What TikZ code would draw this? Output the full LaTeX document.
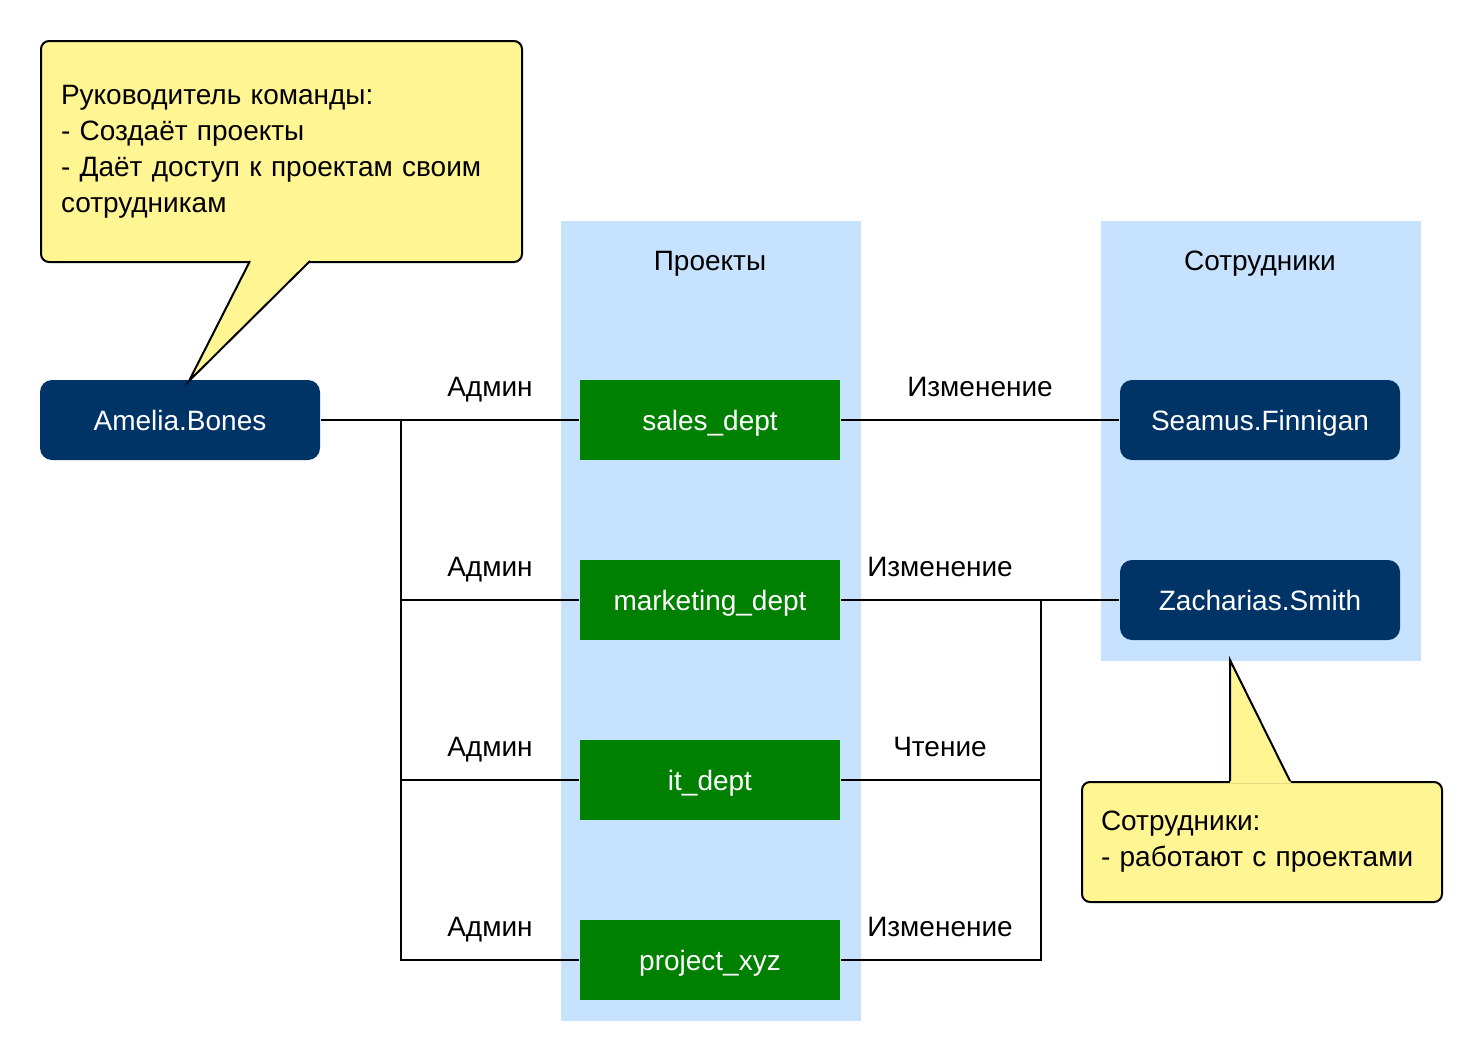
\documentclass[tikz,border=0pt]{standalone}
\usepackage{fontspec}
\setmainfont{Liberation Sans}
\usetikzlibrary{positioning, calc}

\definecolor{notefill}{HTML}{FFF593}
\definecolor{colfill}{HTML}{C7E2FF}
\definecolor{userfill}{HTML}{003366}
\definecolor{projfill}{HTML}{008000}

\begin{document}
\begin{tikzpicture}[
    x=1pt, y=-1pt,
    line width=2pt,
    font=\fontsize{28}{36}\selectfont,
    capline/.style={text height=20pt, text depth=0pt},
    user/.style={rectangle, capline, rounded corners=12pt, fill=userfill, text=white,
        minimum width=280pt, minimum height=80pt},
    proj/.style={rectangle, capline, fill=projfill, text=white,
        minimum width=260pt, minimum height=80pt},
    column/.style={rectangle, fill=colfill, inner sep=0pt, anchor=north west},
    note/.style={rectangle, draw, fill=notefill, rounded corners=8pt,
        align=left, anchor=north west},
    rolelabel/.style={capline, inner sep=0pt}
]

    % Canvas
    \fill[white] (0,0) rectangle (1480,1060);
    \useasboundingbox (0,0) rectangle (1480,1060);

    % Columns
    \node[column, minimum width=300pt, minimum height=800pt] (projcol) at (560,220) {};
    \node[column, minimum width=320pt, minimum height=440pt] (staffcol) at (1100,220) {};
    \node[rolelabel] (projtitle) at (710,260.5) {Проекты};
    \node[rolelabel] (stafftitle) at (1260,260.5) {Сотрудники};

    % Team lead and staff
    \node[user] (amelia) at (180,420) {Amelia.Bones};
    \node[user] (seamus) at (1260,420) {Seamus.Finnigan};
    \node[user] (zacharias) at (1260,600) {Zacharias.Smith};

    % Projects with admin rights
    \foreach \name/\label/\y in {sales/sales\_dept/420, marketing/marketing\_dept/600,
                                 it/it\_dept/780, xyz/project\_xyz/960} {
        \node[proj] (\name) at (710,\y) {\label};
        \node[rolelabel] (admin\name) at (490,\y-33.5) {Админ};
    }

    % Left side: lead -> projects
    \coordinate (lsplit) at (401,420);
    \draw (amelia) -- (sales);
    \foreach \name in {marketing, it, xyz}
        \draw (\name.west) -| (lsplit);

    % Right side: projects -> staff
    \coordinate (rsplit) at (1041,600);
    \draw (sales) -- (seamus);
    \draw (marketing) -- (zacharias);
    \foreach \name in {it, xyz}
        \draw (\name.east) -| (rsplit);

    \node[rolelabel] (rolesales) at (980,386.5) {Изменение};
    \node[rolelabel] (rolemarketing) at (940,566.5) {Изменение};
    \node[rolelabel] (roleit) at (940,746.5) {Чтение};
    \node[rolelabel] (rolexyz) at (940,926.5) {Изменение};

    % Callout for the team lead
    \node[note, minimum width=481pt, minimum height=221pt, text width=441pt,
          inner xsep=20pt] (leadnote) at (40,40)
        {Руководитель команды:\\- Создаёт проекты\\- Даёт доступ к проектам своим\\сотрудникам};
    \fill[notefill] (251,259) -- (189,381) -- (312,259) -- cycle;
    \draw (250,261) -- (189,381) -- (310,261);

    % Callout for the staff
    \node[note, minimum width=360pt, minimum height=120pt, text width=322pt,
          inner xsep=19pt] (staffnote) at (1081,781)
        {Сотрудники:\\- работают с проектами};
    \fill[notefill] (1230,783) -- (1230,660) -- (1291,783) -- cycle;
    \draw (1230,781) -- (1230,660) -- (1290,781);

\end{tikzpicture}
\end{document}
